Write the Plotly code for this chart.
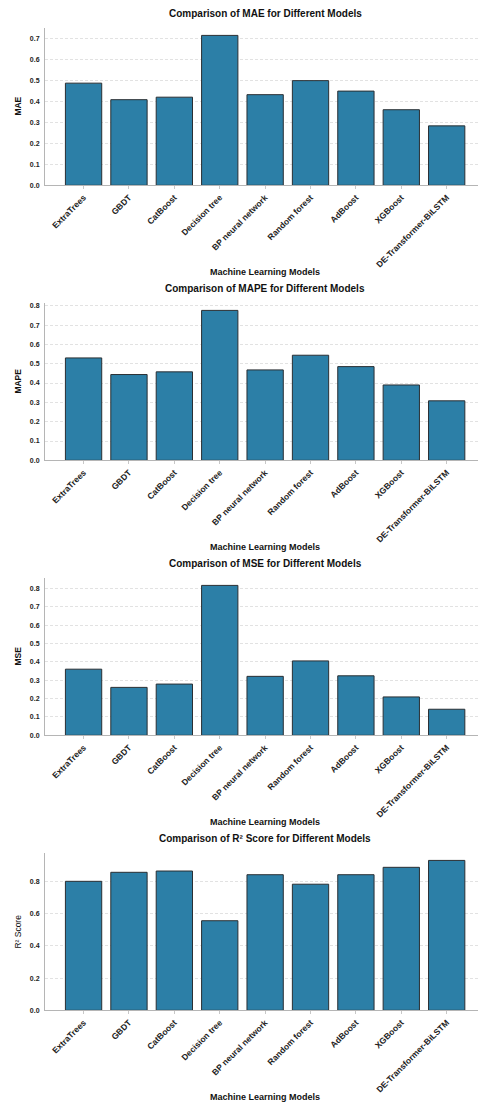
import plotly.graph_objects as go

models = ["ExtraTrees", "GBDT", "CatBoost", "Decision tree", "BP neural network",
          "Random forest", "AdBoost", "XGBoost", "DE-Transformer-BiLSTM"]
mae = [0.488, 0.409, 0.421, 0.716, 0.433, 0.500, 0.450, 0.361, 0.284]
mape = [0.530, 0.444, 0.458, 0.776, 0.468, 0.544, 0.485, 0.390, 0.308]
mse = [0.360, 0.261, 0.279, 0.816, 0.321, 0.405, 0.324, 0.209, 0.142]
r2 = [0.802, 0.858, 0.866, 0.557, 0.843, 0.784, 0.843, 0.889, 0.932]

metrics = ["MAE", "MAPE", "MSE", "R² Score"]
series = [mae, mape, mse, r2]
dticks = [0.1, 0.1, 0.1, 0.2]

W, H = 478, 1106
BAR = "#2c7fa7"
EDGE = "#2a2f33"
FONT = "Liberation Sans"

fig = go.Figure()
annotations = []
for k, (name, vals, dt) in enumerate(zip(metrics, series, dticks)):
    bottom_px = 185 + 276 * k
    top_px = bottom_px - 158
    dom = [1 - bottom_px / H, 1 - top_px / H]
    sfx = "" if k == 0 else str(k + 1)
    fig.add_trace(go.Bar(
        x=list(range(len(models))), y=vals, width=0.8,
        marker=dict(color=BAR, line=dict(color=EDGE, width=1)),
        xaxis="x" + sfx, yaxis="y" + sfx, showlegend=False,
    ))
    ymax = max(vals) * 1.05
    fig.update_layout(**{
        "xaxis" + sfx: dict(
            domain=[45 / W, 1.0], range=[-0.85, 8.69], anchor="y" + sfx,
            tickmode="array", tickvals=list(range(len(models))), ticktext=models,
            tickangle=-45, showgrid=False, zeroline=False,
            showline=True, linecolor="#b5b5b5", linewidth=1,
            ticks="outside", ticklen=3, tickcolor="#c8c8c8", tickwidth=1,
            tickfont=dict(family=FONT, size=8.5, color="#222", weight="bold"),
        ),
        "yaxis" + sfx: dict(
            domain=dom, range=[0, ymax], anchor="x" + sfx, dtick=dt,
            tickformat=".1f", showgrid=True, gridcolor="#e2e2e2", griddash="3px,2px",
            gridwidth=1, zeroline=False, showline=True, linecolor="#b5b5b5",
            linewidth=1, ticks="outside", ticklen=3, tickcolor="white",
            tickfont=dict(family=FONT, size=7, color="#222", weight="bold"),
        ),
    })
    annotations.append(dict(
        text="Comparison of %s for Different Models" % name,
        x=265 / W, y=1 - (13 + 276 * k) / H, xref="paper", yref="paper",
        showarrow=False, xanchor="center", yanchor="middle",
        font=dict(family=FONT, size=10, color="#111", weight="bold"),
    ))
    annotations.append(dict(
        text="Machine Learning Models",
        x=265 / W, y=1 - (272 + 276 * k) / H, xref="paper", yref="paper",
        showarrow=False, xanchor="center", yanchor="middle",
        font=dict(family=FONT, size=9, color="#111", weight="bold"),
    ))
    annotations.append(dict(
        text=name if k < 3 else "R² Score",
        x=18 / W, y=1 - (bottom_px - 79) / H, xref="paper", yref="paper",
        showarrow=False, xanchor="center", yanchor="middle", textangle=-90,
        font=dict(family=FONT, size=8.5, color="#111",
                  weight="bold" if k < 3 else "normal"),
    ))

fig.update_layout(
    width=W, height=H, margin=dict(l=0, r=0, t=0, b=0),
    paper_bgcolor="white", plot_bgcolor="white",
    annotations=annotations, bargap=0.2,
)
fig.write_html("out.html")
